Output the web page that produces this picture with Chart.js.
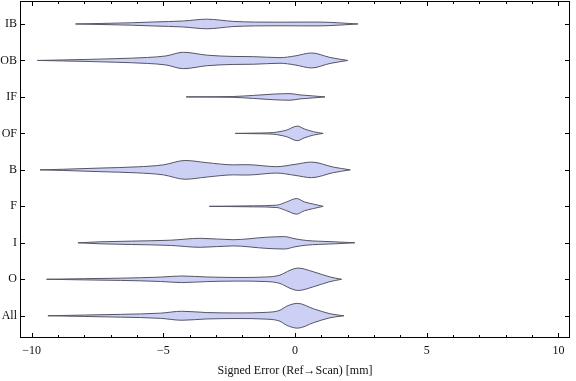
<!DOCTYPE html>
<html>
<head>
<meta charset="utf-8">
<script src="https://cdn.jsdelivr.net/npm/chart.js@4/dist/chart.umd.min.js"></script>
<style>
  html, body { margin: 0; padding: 0; background: #fff; }
  #wrap { width: 576px; height: 381px; position: relative; }
</style>
</head>
<body>
<div id="wrap"><canvas id="c" width="576" height="381"></canvas></div>
<script>
// Categories, top to bottom
const categories = ['IB', 'OB', 'IF', 'OF', 'B', 'F', 'I', 'O', 'All'];

// Density profiles (x = signed error in mm, D = relative density / half-width)
const ibX  = [-8.33, -7.4, -6.2, -5.37, -4.24, -3.35, -2.35, -1.5, -0.57, 0.3, 0.95, 1.7, 2.39];
const ibD  = [0, 0.5, 1.2, 2, 3, 4.8, 2.6, 1.9, 1.8, 1.9, 1.9, 1.1, 0];

const obX  = [-9.78, -8.8, -7.9, -6.8, -5.6, -4.9, -4.24, -3.35, -2.35, -1.58, -0.57, 0.0, 0.63, 1.33, 2.0];
const obD  = [0, 0.5, 1, 1.8, 3, 4.5, 8.2, 5.3, 4, 3.8, 2.8, 4.5, 7.5, 3, 0];

const ifX  = [-4.13, -3, -2.35, -1.58, -0.83, -0.19, 0.19, 0.68, 1.14];
const ifD  = [0, 0.2, 0.4, 1.5, 2.8, 3.3, 2, 1, 0];

const ofX  = [-2.27, -1.3, -0.82, -0.57, -0.32, 0.09, 0.35, 0.7, 1.07];
const ofD  = [0, 0.4, 0.8, 1.8, 3.3, 7.3, 4.5, 1.7, 0];

const bX   = [-9.68, -8.8, -7.4, -6.0, -5.0, -4.17, -3.35, -2.33, -1.83, -0.7, 0.0, 0.63, 1.45, 2.1];
const bD   = [0, 0.6, 1.8, 3, 5, 9.4, 7.2, 5, 5.2, 3.2, 5.5, 7.8, 2.8, 0];

const fX   = [-3.25, -1.58, -0.69, -0.32, 0.06, 0.35, 0.7, 1.07];
const fD   = [0, 0.5, 1.2, 4.4, 7.8, 4.5, 2.2, 0];

const iX   = [-8.24, -7.4, -6.2, -4.73, -3.6, -2.35, -1.07, -0.4, 0.0, 0.45, 0.9, 1.5, 2.27];
const iD   = [0, 1, 1.7, 2.6, 4.5, 3.1, 5.6, 6.2, 4, 2.3, 1.6, 1, 0];

const oX   = [-9.43, -8, -6.63, -5.1, -4.3, -3.35, -2.2, -1.07, -0.57, -0.19, 0.12, 0.7, 1.33, 1.77];
const oD   = [0, 0.6, 1.1, 2.2, 3.3, 2.3, 1.8, 2.3, 4.2, 9, 11.2, 7.5, 2.3, 0];

const allX = [-9.38, -8, -6.63, -5.1, -4.3, -3.35, -2.2, -1.07, -0.57, -0.32, 0.1, 0.7, 1.33, 1.86];
const allD = [0, 0.7, 1.4, 2.6, 4.5, 3.2, 2.8, 3.4, 5.5, 9.5, 12.4, 7, 2, 0];

// Axis ticks
const xMajorTicks = [-10, -5, 0, 5, 10];
const xMinorTicks = [-10, -9, -8, -7, -6, -5, -4, -3, -2, -1, 0, 1, 2, 3, 4, 5, 6, 7, 8, 9, 10];

const profiles = [
  [ibX, ibD], [obX, obD], [ifX, ifD], [ofX, ofD], [bX, bD],
  [fX, fD], [iX, iD], [oX, oD], [allX, allD]
];

const densityScale = 1 / 36.5; // density units -> category units
const fillColor = 'rgb(203,208,244)';
const lineColor = 'rgb(85,85,100)';

const datasets = [];
profiles.forEach(([xs, ds], i) => {
  const center = categories.length - i;
  const upper = xs.map((x, k) => ({ x: x, y: center + ds[k] * densityScale }));
  const lower = xs.map((x, k) => ({ x: x, y: center - ds[k] * densityScale }));
  const common = {
    borderColor: lineColor, borderWidth: 1, pointRadius: 0,
    cubicInterpolationMode: 'monotone'
  };
  datasets.push(Object.assign({ data: upper, fill: false }, common));
  datasets.push(Object.assign({ data: lower, fill: '-1', backgroundColor: fillColor }, common));
});

const frameTicks = {
  id: 'frameTicks',
  afterDatasetsDraw(chart) {
    const { ctx, chartArea: a, scales } = chart;
    ctx.save();
    ctx.strokeStyle = '#000';
    ctx.lineWidth = 1;
    ctx.strokeRect(Math.round(a.left) + 0.5, Math.round(a.top) + 0.5,
                   Math.round(a.right - a.left) - 1, Math.round(a.bottom - a.top) - 1);
    ctx.beginPath();
    xMinorTicks.forEach(v => {
      const px = Math.round(scales.x.getPixelForValue(v)) + 0.5;
      const len = xMajorTicks.includes(v) ? 5 : 3;
      ctx.moveTo(px, a.bottom); ctx.lineTo(px, a.bottom - len);
      ctx.moveTo(px, a.top); ctx.lineTo(px, a.top + len);
    });
    categories.forEach((c, i) => {
      const py = Math.round(scales.y.getPixelForValue(categories.length - i)) + 0.5;
      ctx.moveTo(a.left, py); ctx.lineTo(a.left + 5, py);
      ctx.moveTo(a.right, py); ctx.lineTo(a.right - 5, py);
    });
    ctx.stroke();
    ctx.restore();
  }
};

const serif = "'Liberation Serif', 'DejaVu Serif', serif";

function zeroPad(s) {
  s.paddingTop = 0; s.paddingBottom = 0; s.paddingLeft = 0; s.paddingRight = 0;
}

new Chart(document.getElementById('c'), {
  type: 'line',
  data: { datasets },
  options: {
    responsive: false,
    animation: false,
    events: [],
    layout: { padding: { top: 1, right: 6, left: 0, bottom: 0 } },
    plugins: { legend: { display: false }, tooltip: { enabled: false } },
    scales: {
      x: {
        type: 'linear',
        min: -10.44, max: 10.44,
        grid: { display: false, drawTicks: false },
        border: { display: false },
        afterBuildTicks: s => { s.ticks = xMajorTicks.map(v => ({ value: v })); },
        afterFit: s => { s.height = 43; zeroPad(s); },
        ticks: {
          padding: 6,
          color: '#111',
          font: { family: serif, size: 12 },
          maxRotation: 0,
          callback: v => (v < 0 ? '\u2212' + Math.abs(v) : String(v))
        },
        title: {
          display: true,
          text: 'Signed Error (Ref\u2192Scan) [mm]',
          color: '#111',
          font: { family: serif, size: 12 },
          padding: { top: 4, bottom: 3 }
        }
      },
      y: {
        type: 'linear',
        min: 0.39, max: 9.63,
        grid: { display: false, drawTicks: false },
        border: { display: false },
        afterBuildTicks: s => { s.ticks = categories.map((c, i) => ({ value: categories.length - i })); },
        afterFit: s => { s.width = 20; zeroPad(s); },
        ticks: {
          padding: 3,
          color: '#111',
          font: { family: serif, size: 12 },
          callback: v => categories[categories.length - v]
        }
      }
    }
  },
  plugins: [frameTicks]
});
</script>
</body>
</html>
